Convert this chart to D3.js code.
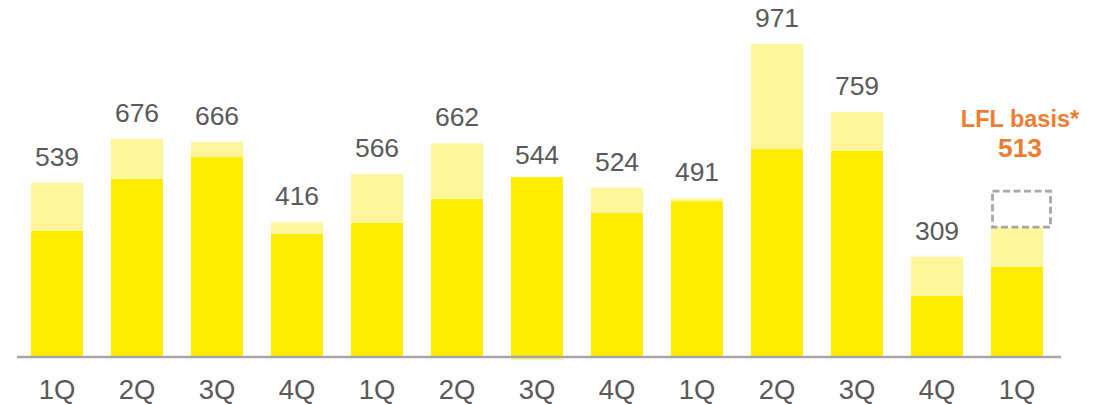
<!DOCTYPE html>
<html>
<head>
<meta charset="utf-8">
<script src="https://cdn.jsdelivr.net/npm/d3@7"></script>
<style>
  html, body { margin: 0; padding: 0; background: #fff; }
  svg { display: block; font-family: "Liberation Sans", Arial, sans-serif; }
</style>
</head>
<body>
<svg id="chart" width="1102" height="404"></svg>
<script>
// Quarterly values: core part, additional part, and the stated total
const quarters = ["1Q", "2Q", "3Q", "4Q", "1Q", "2Q", "3Q", "4Q", "1Q", "2Q", "3Q", "4Q", "1Q"];
const baseValues = [389, 551, 619, 380, 414, 489, 557, 445, 482, 644, 638, 187, 277];
const extraValues = [150, 125, 47, 36, 152, 173, -13, 79, 9, 327, 121, 122, 124];
const totalLabels = [539, 676, 666, 416, 566, 662, 544, 524, 491, 971, 759, 309, null];
const lflBasis = 513;
const lflTitle = "LFL basis*";

const colors = { base: "#FFED00", extra: "#FFF59B", text: "#595959", axis: "#A6A6A6", lfl: "#ED7D31" };

const svg = d3.select("#chart");
const idx = quarters.map((_, i) => i);

const x = d3.scaleBand().domain(idx).range([17, 1057]).paddingInner(0.35).paddingOuter(0.175);
const y = d3.scaleLinear().domain([0, 971]).range([356, 44]);
const bw = x.bandwidth();

// core segment
svg.append("g").selectAll("rect")
  .data(idx)
  .join("rect")
  .attr("x", i => x(i))
  .attr("width", bw)
  .attr("y", i => y(baseValues[i]))
  .attr("height", i => y(0) - y(baseValues[i]))
  .attr("fill", colors.base);

// additional segment, stacked on the core (negative ones hang below zero)
svg.append("g").selectAll("rect")
  .data(idx)
  .join("rect")
  .attr("x", i => x(i))
  .attr("width", bw)
  .attr("y", i => extraValues[i] >= 0 ? y(baseValues[i] + extraValues[i]) : y(0))
  .attr("height", i => Math.abs(y(0) - y(Math.abs(extraValues[i]))))
  .attr("fill", colors.extra);

// baseline
svg.append("line")
  .attr("x1", 17).attr("x2", 1061)
  .attr("y1", y(0) + 1).attr("y2", y(0) + 1)
  .attr("stroke", colors.axis).attr("stroke-width", 2.5);

// total labels
svg.append("g").selectAll("text")
  .data(idx.filter(i => totalLabels[i] !== null))
  .join("text")
  .attr("x", i => x(i) + bw / 2)
  .attr("y", i => y(totalLabels[i]) - 17)
  .attr("text-anchor", "middle")
  .attr("font-size", 26.5)
  .attr("fill", colors.text)
  .text(i => totalLabels[i]);

// quarter axis labels
const xAxis = d3.axisBottom(x).tickSize(0).tickPadding(0).tickFormat(i => quarters[i]);
const ax = svg.append("g").call(xAxis);
ax.select(".domain").remove();
ax.selectAll("text")
  .attr("y", 399).attr("dy", null)
  .attr("font-size", 27.5)
  .attr("font-family", "Liberation Sans, Arial, sans-serif")
  .attr("fill", colors.text);

// like-for-like basis box on the last quarter
const last = idx[idx.length - 1];
const lastTop = baseValues[last] + extraValues[last];
svg.append("rect")
  .attr("x", x(last) + 1.5)
  .attr("y", y(lflBasis))
  .attr("width", bw + 6)
  .attr("height", y(lastTop) - y(lflBasis))
  .attr("fill", "none")
  .attr("stroke", colors.axis)
  .attr("stroke-width", 2.8)
  .attr("stroke-dasharray", "7,3.5");

const cx = x(last) + bw / 2 + 3;
svg.append("text")
  .attr("x", cx).attr("y", y(lflBasis) - 64)
  .attr("text-anchor", "middle")
  .attr("font-size", 23.5).attr("font-weight", "bold")
  .attr("fill", colors.lfl)
  .text(lflTitle);
svg.append("text")
  .attr("x", cx).attr("y", y(lflBasis) - 34)
  .attr("text-anchor", "middle")
  .attr("font-size", 26.5).attr("font-weight", "bold")
  .attr("fill", colors.lfl)
  .text(lflBasis);
</script>
</body>
</html>
